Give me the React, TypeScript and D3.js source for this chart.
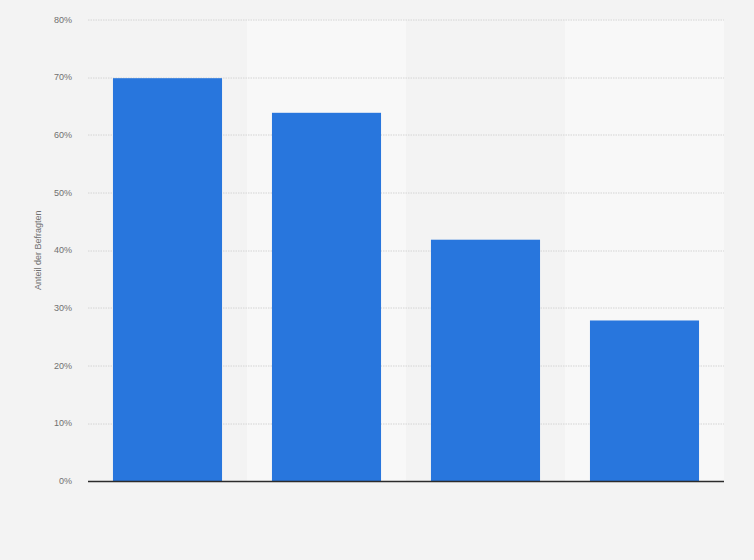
import { useMemo } from "react";
import * as d3 from "d3";

const categories = ["A", "B", "C", "D"];
const values = [70, 64, 42, 28];
const yTicks = [0, 10, 20, 30, 40, 50, 60, 70, 80];
const yLabel = "Anteil der Befragten";

const W = 754;
const H = 560;
const margin = { top: 19.5, right: 30, bottom: 79, left: 88 };

export default function App() {
  const innerW = W - margin.left - margin.right;
  const innerH = H - margin.top - margin.bottom;

  const x = useMemo(
    () => d3.scaleBand<string>().domain(categories).range([0, innerW]).paddingInner(0).paddingOuter(0),
    [innerW],
  );
  const y = useMemo(() => d3.scaleLinear().domain([0, 80]).range([innerH, 0]), [innerH]);

  const barW = x.bandwidth() * 0.686;

  return (
    <svg
      width={W}
      height={H}
      style={{ position: "absolute", left: 0, top: 0, background: "#f3f3f3" }}
      fontFamily="Arial, 'Liberation Sans', sans-serif"
    >
      <g transform={`translate(${margin.left},${margin.top})`}>
        {/* alternating column bands */}
        {categories.map((c, i) =>
          i % 2 === 1 ? (
            <rect key={c} x={x(c)} y={0} width={x.bandwidth()} height={innerH} fill="#f8f8f8" />
          ) : null,
        )}
        {/* grid */}
        {yTicks.map((t) =>
          t === 0 ? null : (
            <line
              key={t}
              x1={0}
              x2={innerW}
              y1={Math.round(y(t)) + 0.5}
              y2={Math.round(y(t)) + 0.5}
              stroke="#d4d4d4"
              strokeDasharray="1.5,1"
            />
          ),
        )}
        {yTicks.map((t) => (
          <text
            key={t}
            x={-16}
            y={y(t)}
            dy="0.35em"
            textAnchor="end"
            fontSize={9}
            fill="#707070"
          >
            {`${t}%`}
          </text>
        ))}
        {/* bars */}
        {categories.map((c, i) => (
          <rect
            key={c}
            x={(x(c) ?? 0) + (x.bandwidth() - barW) / 2}
            y={y(values[i]) + 1}
            width={barW}
            height={innerH - y(values[i]) - 1}
            fill="#2876dd"
          />
        ))}
        <line x1={0} x2={innerW} y1={innerH + 0.5} y2={innerH + 0.5} stroke="#2b2b2b" strokeWidth={1.5} />
        <text
          transform={`translate(${-47},${innerH / 2}) rotate(-90)`}
          textAnchor="middle"
          fontSize={9}
          fill="#707070"
        >
          {yLabel}
        </text>
      </g>
    </svg>
  );
}
